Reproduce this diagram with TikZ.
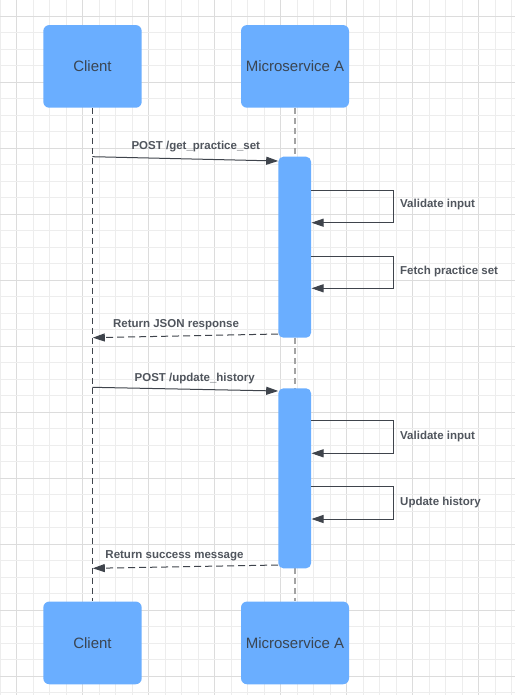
\documentclass[tikz,border=0pt]{standalone}
\usepackage{fontspec}
\setmainfont{Liberation Sans}
\usetikzlibrary{arrows.meta,calc}
\definecolor{boxblue}{HTML}{6AAEFF}
\definecolor{boxtext}{HTML}{3A4552}
\definecolor{labtext}{HTML}{50555D}
\definecolor{linec}{HTML}{3F444C}
\definecolor{lifegray}{HTML}{A3A3A3}
\definecolor{gridminor}{HTML}{EDEDED}
\definecolor{gridmajor}{HTML}{DCDCDC}
\tikzset{
  actor/.style={fill=boxblue, draw=none, rounded corners=6pt, minimum height=82.7pt,
    inner sep=0pt, font=\fontsize{15}{17}\selectfont, text=boxtext},
  bar/.style={fill=boxblue, draw=none, rounded corners=5pt, minimum width=32.7pt, inner sep=0pt},
  msg/.style={draw=linec, line width=1pt, -{Triangle[length=12pt,width=8pt]}},
  ret/.style={msg, dash pattern=on 7pt off 4pt},
  lbl/.style={font=\fontsize{11.5}{13}\selectfont\bfseries, text=labtext, inner sep=0pt},
  lifec/.style={draw=linec, line width=1pt, dash pattern=on 6pt off 4pt},
  lifem/.style={draw=lifegray, line width=1.6pt, dash pattern=on 6pt off 4pt},
}
\begin{document}
\begin{tikzpicture}[x=1pt,y=-1pt]
\useasboundingbox (0,0) rectangle (515,695);
\fill[white] (0,0) rectangle (515,695);
% grid
\foreach \k in {0,...,31}{
  \pgfmathtruncatemacro{\m}{mod(\k,4)}
  \ifnum\m=1
    \draw[gridmajor, line width=1.2pt] (16.5*\k+0.2,0) -- (16.5*\k+0.2,695);
  \else
    \draw[gridminor, line width=1pt] (16.5*\k+0.2,0) -- (16.5*\k+0.2,695);
  \fi
}
\foreach \k in {0,...,42}{
  \pgfmathtruncatemacro{\m}{mod(\k,4)}
  \ifnum\m=1
    \draw[gridmajor, line width=1.2pt] (0,16.5*\k-0.2) -- (515,16.5*\k-0.2);
  \else
    \draw[gridminor, line width=1pt] (0,16.5*\k-0.2) -- (515,16.5*\k-0.2);
  \fi
}
% actors
\node[actor, minimum width=98.4pt] (ct) at (92.5,66.4) {Client};
\node[actor, minimum width=108pt] (mt) at (295,66.4) {Microservice A};
\node[actor, minimum width=98.4pt] (cb) at (92.5,642.9) {Client};
\node[actor, minimum width=108pt] (mb) at (295,642.9) {Microservice A};
% lifelines
\draw[lifec] (ct.south) -- (cb.north);
\draw[lifem] (mt.south) -- (mb.north);
% activation bars
\node[bar, minimum height=181pt] (b1) at (294.7,247.2) {};
\node[bar, minimum height=180pt] (b2) at (294.7,478.3) {};
% coordinates
\coordinate (m1s) at (92.3,156.7);
\coordinate (m1e) at (278.2,161);
\coordinate (s1a) at (311,190);
\coordinate (s1b) at (393.7,190);
\coordinate (s1c) at (393.7,222.7);
\coordinate (s1d) at (311.5,222.7);
\coordinate (s2a) at (311,256);
\coordinate (s2b) at (393.7,256);
\coordinate (s2c) at (393.7,288.3);
\coordinate (s2d) at (311.5,288.3);
\coordinate (r1s) at (278.2,334);
\coordinate (r1e) at (92.8,337.7);
\coordinate (m2s) at (92.3,387.3);
\coordinate (m2e) at (278.2,391);
\coordinate (s3a) at (311,420.7);
\coordinate (s3b) at (393.7,420.7);
\coordinate (s3c) at (393.7,453.3);
\coordinate (s3d) at (311.5,453.3);
\coordinate (s4a) at (311,486.7);
\coordinate (s4b) at (393.7,486.7);
\coordinate (s4c) at (393.7,519);
\coordinate (s4d) at (311.5,519);
\coordinate (r2s) at (278.2,565);
\coordinate (r2e) at (92.8,568.3);
% messages
\draw[msg] (m1s) -- (m1e);
\node[lbl] (l1) at (195.8,147) {POST /get\_practice\_set};
\draw[msg] (s1a) -- (s1b) -- (s1c) -- (s1d);
\node[lbl, anchor=west] (l2) at (400,205) {Validate input};
\draw[msg] (s2a) -- (s2b) -- (s2c) -- (s2d);
\node[lbl, anchor=west] (l3) at (400,271.5) {Fetch practice set};
\draw[ret] (r1s) -- (r1e);
\node[lbl] (l4) at (176,325) {Return JSON response};
\draw[msg] (m2s) -- (m2e);
\node[lbl] (l5) at (194.7,378.3) {POST /update\_history};
\draw[msg] (s3a) -- (s3b) -- (s3c) -- (s3d);
\node[lbl, anchor=west] (l6) at (400,436.5) {Validate input};
\draw[msg] (s4a) -- (s4b) -- (s4c) -- (s4d);
\node[lbl, anchor=west] (l7) at (400,502.3) {Update history};
\draw[ret] (r2s) -- (r2e);
\node[lbl] (l8) at (174.5,555.5) {Return success message};
\end{tikzpicture}
\end{document}
